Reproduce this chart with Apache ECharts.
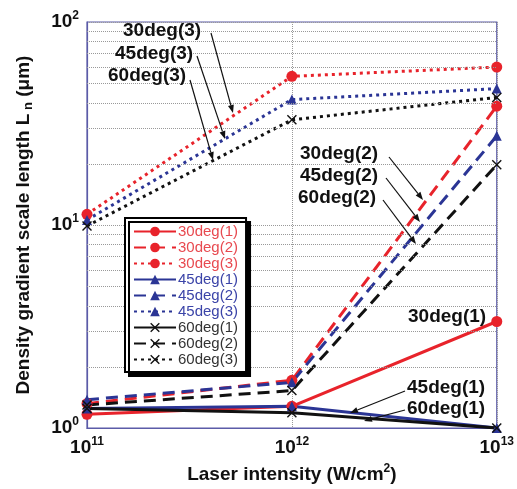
<!DOCTYPE html>
<html>
<head>
<meta charset="utf-8">
<script src="https://cdn.jsdelivr.net/npm/echarts@6/dist/echarts.min.js"></script>
<style>
  html, body { margin: 0; padding: 0; background: #fff; }
  #chart { width: 517px; height: 489px; }
</style>
</head>
<body>
<div id="chart"></div>
<script>
// laser intensity (W/cm2)
var intensity = [1e11, 1e12, 1e13];
// scale length Ln (um)
var deg30_1 = [1.17, 1.28, 3.35];
var deg30_2 = [1.32, 1.72, 38.5];
var deg30_3 = [11.3, 54, 60];
var deg45_1 = [1.25, 1.28, 1.0];
var deg45_2 = [1.38, 1.68, 27.5];
var deg45_3 = [10.6, 41.5, 47];
var deg60_1 = [1.25, 1.19, 1.0];
var deg60_2 = [1.3, 1.53, 19.8];
var deg60_3 = [9.9, 33, 42.5];
var minorGrid = [2, 3, 4, 5, 6, 7, 8, 9, 20, 30, 40, 50, 60, 70, 80, 90];

var RED = '#e8232b', BLUE = '#2b3595', BLACK = '#111';
var CROSS = 'path://M0,1L1,0L5,4L9,0L10,1L6,5L10,9L9,10L5,6L1,10L0,9L4,5Z';
var DOT = [3, 4], DASH = [12, 7];

function pairs(ys){
	return intensity.map(function(x, i){ return [x, ys[i]]; });
}
function mk(name, ys, color, type, symbol, size){
	return {
		name: name,
		type: 'line',
		data: pairs(ys),
		clip: false,
		symbol: symbol,
		symbolSize: size,
		showSymbol: true,
		itemStyle: { color: color },
		lineStyle: { color: color, width: 3, type: type, cap: 'butt' },
		z: 3
	};
}

var series = [
	mk('30deg(1)', deg30_1, RED, 'solid', 'circle', 11),
	mk('30deg(2)', deg30_2, RED, DASH, 'circle', 11),
	mk('30deg(3)', deg30_3, RED, DOT, 'circle', 11),
	mk('45deg(1)', deg45_1, BLUE, 'solid', 'triangle', 10),
	mk('45deg(2)', deg45_2, BLUE, DASH, 'triangle', 10),
	mk('45deg(3)', deg45_3, BLUE, DOT, 'triangle', 10),
	mk('60deg(1)', deg60_1, BLACK, 'solid', CROSS, 10),
	mk('60deg(2)', deg60_2, BLACK, DASH, CROSS, 10),
	mk('60deg(3)', deg60_3, BLACK, DOT, CROSS, 10)
];
// minor horizontal grid lines
series.push({
	type: 'line',
	data: [],
	silent: true,
	markLine: {
		silent: true,
		symbol: ['none', 'none'],
		label: { show: false },
		lineStyle: { color: '#999', type: [1, 1], width: 1 },
		data: minorGrid.map(function(v){ return { yAxis: v }; })
	},
	z: 1
});

var legendColors = { '30': '#e84a50', '45': '#3b44a8', '60': '#333' };
var legendData = series.slice(0, 9).map(function(s){
	return { name: s.name, textStyle: { color: legendColors[s.name.slice(0, 2)] } };
});

var FONT = '"Liberation Sans", Arial, sans-serif';
var supRich = {
	b: { fontSize: 19, fontWeight: 'bold', fontFamily: FONT, color: '#111' },
	s: { fontSize: 12, fontWeight: 'bold', fontFamily: FONT, color: '#111', padding: [0, 0, 12, 0] }
};
function powLabel(v){
	return '{b|10}{s|' + Math.round(Math.log10(v)) + '}';
}

// annotation labels and arrows (pixel positions)
var notes = [
	{ t: '30deg(3)', x: 123, y: 32, from: [211, 33], to: [233, 113] },
	{ t: '45deg(3)', x: 115, y: 55, from: [197, 56], to: [225, 139] },
	{ t: '60deg(3)', x: 108, y: 77, from: [190, 80], to: [213, 160] },
	{ t: '30deg(2)', x: 300, y: 155, from: [389, 157], to: [423, 200] },
	{ t: '45deg(2)', x: 300, y: 177, from: [386, 178], to: [420, 222] },
	{ t: '60deg(2)', x: 298, y: 199, from: [383, 200], to: [416, 244] },
	{ t: '30deg(1)', x: 408, y: 318 },
	{ t: '45deg(1)', x: 407, y: 389, from: [405, 391], to: [350, 413] },
	{ t: '60deg(1)', x: 407, y: 410, from: [405, 410], to: [364, 421] }
];
var graphics = [];
notes.forEach(function(n){
	graphics.push({
		type: 'text', left: n.x, top: n.y - 11,
		style: { text: n.t, font: 'bold 19px ' + FONT, fill: '#111' },
		z: 20
	});
	if(n.from){
		var dx = n.to[0] - n.from[0], dy = n.to[1] - n.from[1];
		var len = Math.sqrt(dx * dx + dy * dy), ux = dx / len, uy = dy / len;
		var bx = n.to[0] - ux * 8, by = n.to[1] - uy * 8;
		graphics.push({
			type: 'line', z: 20,
			shape: { x1: n.from[0], y1: n.from[1], x2: bx, y2: by },
			style: { stroke: '#111', lineWidth: 1.2 }
		});
		graphics.push({
			type: 'polygon', z: 20,
			shape: { points: [n.to, [bx - uy * 3, by + ux * 3], [bx + uy * 3, by - ux * 3]] },
			style: { fill: '#111' }
		});
	}
});

var chart = echarts.init(document.getElementById('chart'));
var option = {
	animation: false,
	backgroundColor: '#fff',
	grid: {
		left: 87, right: 19, top: 22, bottom: 57,
		show: true, borderColor: '#5b5ba8', borderWidth: 1.2, backgroundColor: 'transparent'
	},
	legend: {
		orient: 'vertical',
		left: 125, top: 218,
		data: legendData,
		itemWidth: 42, itemHeight: 12, itemGap: 1,
		padding: [6, 8, 5, 8],
		backgroundColor: '#fff',
		borderColor: '#000', borderWidth: 2, borderRadius: 0,
		shadowColor: '#000', shadowBlur: 0, shadowOffsetX: 4, shadowOffsetY: 4,
		textStyle: { fontSize: 15, fontFamily: FONT, padding: [0, 0, 0, -3] },
		selectedMode: false,
		z: 10
	},
	xAxis: {
		type: 'log', logBase: 10, min: 1e11, max: 1e13,
		name: '{t|Laser intensity (W/cm}{s|2}{t|)}',
		nameLocation: 'middle', nameGap: 32,
		nameTextStyle: { rich: {
			t: { fontSize: 19, fontWeight: 'bold', fontFamily: FONT, color: '#111' },
			s: { fontSize: 12, fontWeight: 'bold', fontFamily: FONT, color: '#111', padding: [0, 0, 12, 0] }
		} },
		axisLine: { lineStyle: { color: '#5b5ba8', width: 1.2 } },
		axisTick: { show: false },
		axisLabel: { formatter: powLabel, rich: supRich, margin: 8 },
		splitLine: { show: true, lineStyle: { color: '#999', type: [1, 1] } }
	},
	yAxis: {
		type: 'log', logBase: 10, min: 1, max: 100,
		name: '{t|Density gradient scale length L}{n| n}{t| (μm)}',
		nameLocation: 'middle', nameGap: 52, nameRotate: 90,
		nameTextStyle: { rich: {
			t: { fontSize: 19, fontWeight: 'bold', fontFamily: FONT, color: '#111' },
			n: { fontSize: 13, fontWeight: 'bold', fontFamily: FONT, color: '#111', padding: [10, 0, 0, 0] }
		} },
		axisLine: { lineStyle: { color: '#5b5ba8', width: 1.2 } },
		axisTick: { show: false },
		axisLabel: { formatter: powLabel, rich: supRich, margin: 8 },
		splitLine: { show: true, lineStyle: { color: '#999', type: [1, 1] } }
	},
	series: series,
	graphic: graphics
};
chart.setOption(option);
window.addEventListener('resize', function(){ chart.resize(); });
</script>
</body>
</html>
